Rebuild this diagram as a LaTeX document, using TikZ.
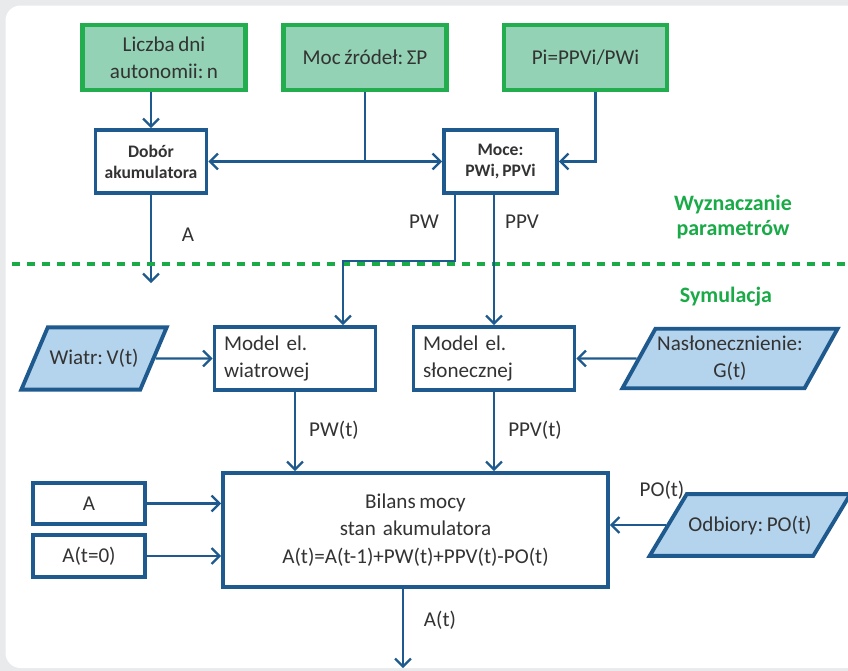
\documentclass[tikz,border=0pt]{standalone}
\usepackage{fontspec}
\setmainfont{Carlito}[WordSpace=0.75]
\usepackage{tikz}
\usetikzlibrary{arrows.meta,positioning,calc,shapes.geometric}
\definecolor{lineblue}{HTML}{1F5A8E}
\definecolor{fillblue}{HTML}{B4D3EC}
\definecolor{boxgreen}{HTML}{22AD4E}
\definecolor{fillgreen}{HTML}{93D2B5}
\definecolor{txtgreen}{HTML}{1AAA48}
\definecolor{txtgray}{HTML}{333333}
\definecolor{bggray}{HTML}{E9EAEC}
\frenchspacing

\begin{document}
\begin{tikzpicture}[
    font=\fontsize{12}{15.5}\selectfont, text=txtgray,
    >={Straight Barb[length=4.5pt,width=9pt]},
    conn/.style={draw=lineblue, line width=1.3pt},
    databox/.style={draw=boxgreen, fill=fillgreen, line width=2.3pt, align=center, inner sep=2pt,
        minimum width=3.26cm, minimum height=1.30cm},
    calcbox/.style={draw=lineblue, fill=white, line width=2.2pt, align=center, inner sep=2pt},
    boldbox/.style={calcbox, font=\fontsize{10}{12}\selectfont\bfseries,
        minimum width=2.22cm, minimum height=1.26cm},
    modelbox/.style={calcbox, align=left, text width=2.84cm, inner xsep=0.19cm, minimum height=1.26cm},
    inputbox/.style={trapezium, trapezium left angle=61, trapezium right angle=119,
        trapezium stretches body=true, draw=lineblue, fill=fillblue, line width=2.2pt,
        align=center, inner xsep=1pt},
    lbl/.style={inner sep=0pt},
    section/.style={text=txtgreen, font=\fontsize{12.5}{14.5}\selectfont\bfseries, align=center}
]
    \useasboundingbox (0,0) rectangle (16.96,-13.42);
    \fill[bggray] (0,0) rectangle (16.96,-13.42);
    \fill[white, rounded corners=0.3cm] (0.11,-0.11) rectangle (17.5,-13.36);

    \node[databox] (lic) at (3.28,-1.15) {Liczba dni\\autonomii: n};
    \node[databox] (moc) at (7.30,-1.15) {Moc źródeł: ΣP};
    \node[databox] (pi) at (11.71,-1.15) {Pi=PPVi/PWi};

    \node[boldbox] (dob) at (3.02,-3.23) {Dobór\\akumulatora};
    \node[boldbox, minimum width=2.26cm] (moce) at (10.01,-3.23) {Moce:\\PWi, PPVi};

    \draw[conn, ->] (dob.north |- lic.south) -- (dob.north);
    \draw[conn] (moc.south) -- (moc.south |- dob.east) coordinate (mocj);
    \draw[conn, ->] (mocj) -- (dob.east);
    \draw[conn, ->] (mocj) -- (moce.west);
    \coordinate (pij) at ($(pi.south)+(0.2,0)$);
    \draw[conn, ->] (pij) |- (moce.east);

    \coordinate (aend) at (3.02,-5.66);
    \draw[conn, ->] (dob.south) -- (aend);
    \node[lbl] (la) at (3.76,-4.70) {A};

    \draw[txtgreen, line width=2pt, dash pattern=on 0.16cm off 0.14cm] (0.24,-5.28) -- (16.96,-5.28);
    \node[section] (wyz) at (14.66,-4.34) {Wyznaczanie\\parametrów};
    \node[section] (sym) at (14.52,-5.94) {Symulacja};

    \node[inputbox, trapezium left angle=67, trapezium right angle=113,
        minimum width=2.84cm, inner ysep=12.5pt] (wiatr) at (1.88,-7.17) {Wiatr: V(t)};
    \node[modelbox] (wia) at (5.90,-7.17) {Model el.\\wiatrowej};
    \node[modelbox] (sol) at (9.88,-7.17) {Model el.\\słonecznej};
    \node[inputbox, minimum width=4.20cm, inner ysep=4.2pt] (nasl) at (14.60,-7.17) {Nasłonecznienie:\\G(t)};

    \coordinate (pwin) at ($(wia.north)+(0.96,0)$);
    \draw[conn, ->] ($(moce.south)+(-0.91,0)$) -- ++(0,-1.32) -| (pwin);
    \draw[conn, ->] (sol.north |- moce.south) -- (sol.north);
    \node[lbl] (lpw) at (8.48,-4.44) {PW};
    \node[lbl] (lppv) at (10.44,-4.44) {PPV};

    \draw[conn, ->] (wiatr.east) -- (wia.west);
    \draw[conn, ->] (nasl.west) -- (sol.east);

    \node[calcbox, minimum width=7.70cm, minimum height=2.28cm] (bil) at (8.31,-10.60)
        {Bilans mocy\\stan~~akumulatora\\A(t)=A(t-1)+PW(t)+PPV(t)-PO(t)};
    \node[calcbox, minimum width=2.24cm, minimum height=0.82cm] (abox) at (1.78,-10.07) {A};
    \node[calcbox, minimum width=2.24cm, minimum height=0.84cm] (a0box) at (1.78,-11.12) {A(t=0)};
    \node[inputbox, trapezium left angle=59, trapezium right angle=121,
        minimum width=3.80cm, inner ysep=12.2pt] (odb) at (15.00,-10.50) {Odbiory: PO(t)};

    \draw[conn, ->] (wia.south) -- (wia.south |- bil.north);
    \draw[conn, ->] (sol.south) -- (sol.south |- bil.north);
    \draw[conn, ->] (abox.east) -- (abox.east -| bil.west);
    \draw[conn, ->] (a0box.east) -- (a0box.east -| bil.west);
    \draw[conn, ->] (odb.west) -- (odb.west -| bil.east);
    \coordinate (atend) at (8.06,-13.36);
    \draw[conn, ->] (bil.south -| atend) -- (atend);

    \node[lbl] (lpwt) at (6.68,-8.60) {PW(t)};
    \node[lbl] (lppvt) at (10.70,-8.60) {PPV(t)};
    \node[lbl] (lpot) at (13.24,-9.80) {PO(t)};
    \node[lbl] (lat) at (8.80,-12.40) {A(t)};
\end{tikzpicture}
\end{document}
